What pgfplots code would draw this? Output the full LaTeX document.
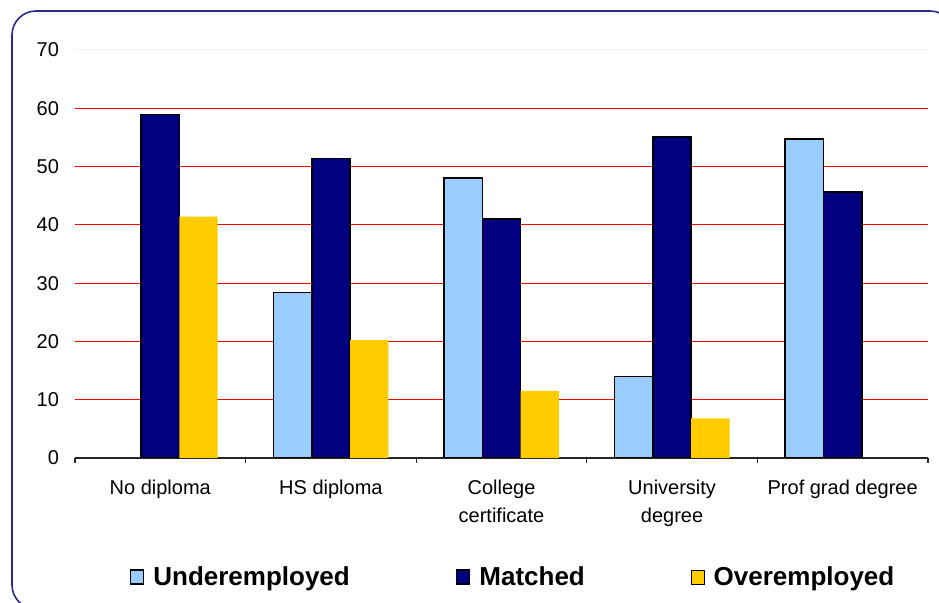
\documentclass[border=0pt]{standalone}
\usepackage{fontspec}
\setmainfont{Liberation Sans}
\usepackage{pgfplots}
\pgfplotsset{compat=1.18}
\definecolor{under}{HTML}{99CCFF}
\definecolor{matched}{HTML}{000080}
\definecolor{over}{HTML}{FFCC00}
\definecolor{framec}{HTML}{2A2A8C}
\begin{document}
\begin{tikzpicture}
\useasboundingbox (0,0) rectangle (469.5pt,301.5pt);
\draw[framec, line width=0.8pt, rounded corners=12pt] (6pt,-3pt) rectangle (477pt,296pt);
\begin{axis}[
  at={(37.5pt,72.5pt)}, anchor=south west,
  scale only axis, width=426.5pt, height=204pt,
  ybar=0pt, bar width=19.15pt,
  xmin=-0.5, xmax=4.5, ymin=0, ymax=70,
  xtick={-0.5,0.5,1.5,2.5,3.5,4.5},
  x tick label as interval,
  xticklabels={No diploma, HS diploma, {College\\certificate}, {University\\degree}, Prof grad degree},
  x tick label style={align=center, font=\fontsize{10}{14}\selectfont, yshift=-5pt},
  ytick={0,10,...,60},
  extra y ticks={70},
  extra y tick style={major grid style={red!8, line width=0.5pt}},
  ymajorgrids,
  grid style={red, line width=0.5pt},
  axis x line*=bottom, axis y line*=left,
  y axis line style={draw=none},
  x axis line style={black!85, line width=0.6pt},
  tick align=outside, major tick length=2.5pt,
  ytick style={draw=none},
  xtick style={black!85, line width=0.6pt},
  tick label style={font=\fontsize{10}{12}\selectfont},
  yticklabel style={xshift=-2pt},
  /pgf/number format/assume math mode=true,
  legend columns=3,
  legend style={at={(0.5147,0)}, anchor=center, yshift=-60pt, draw=none, fill=none,
    font=\bfseries\fontsize{13}{15}\selectfont,
    /tikz/every odd column/.append style={column sep=2.5pt},
    /tikz/every even column/.append style={column sep=51pt}},
  legend image code/.code={\draw[#1] (0pt,-3pt) rectangle (6.5pt,4pt);},
]
\addplot[fill=under, draw=black, line width=0.8pt] coordinates {(1,28.4) (2,48.0) (3,14.0) (4,54.7)};
\addplot[fill=matched, draw=black, line width=0.8pt] coordinates {(0,58.9) (1,51.4) (2,41.0) (3,55.1) (4,45.6)};
\addplot[fill=over, draw=none] coordinates {(0,41.4) (1,20.2) (2,11.5) (3,6.8)};
\legend{Underemployed, Matched, Overemployed}
\end{axis}
\end{tikzpicture}
\end{document}
